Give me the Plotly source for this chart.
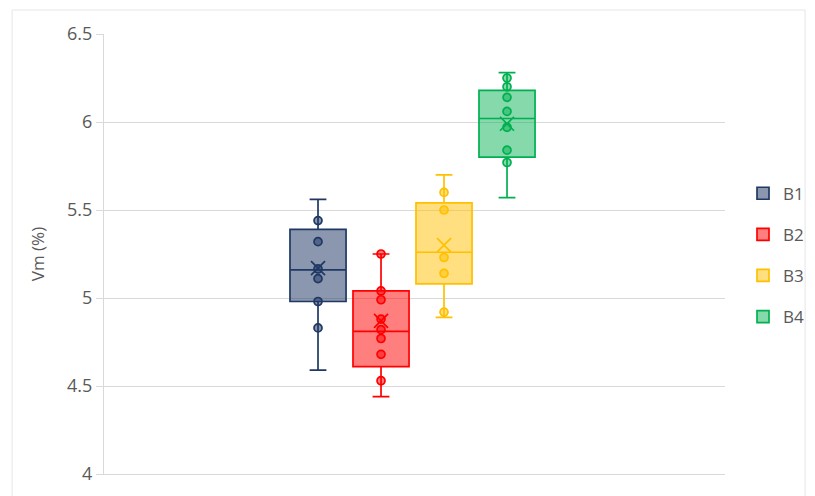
import plotly.graph_objects as go

# Box plot of Vm (%) for four batches
groups = ["B1", "B2", "B3", "B4"]

lower = [4.59, 4.44, 4.89, 5.57]
q1 = [4.98, 4.61, 5.08, 5.80]
median = [5.16, 4.81, 5.26, 6.02]
q3 = [5.39, 5.04, 5.54, 6.18]
upper = [5.56, 5.25, 5.70, 6.28]
mean = [5.17, 4.87, 5.30, 5.99]

b1_points = [5.44, 5.32, 5.165, 5.11, 4.98, 4.83]
b2_points = [5.25, 5.04, 4.99, 4.88, 4.82, 4.77, 4.68, 4.53]
b3_points = [5.60, 5.50, 5.23, 5.14, 4.92]
b4_points = [6.25, 6.20, 6.14, 6.06, 5.97, 5.84, 5.77]
points = [b1_points, b2_points, b3_points, b4_points]

line_colors = ["#203864", "#ff0000", "#ffc000", "#00b050"]
fill_colors = ["rgba(32,56,100,0.52)", "rgba(255,0,0,0.5)",
               "rgba(255,192,0,0.5)", "rgba(0,176,80,0.48)"]

y_ticks = [4, 4.5, 5, 5.5, 6, 6.5]
y_tick_text = ["4", "4.5", "5", "5.5", "6", "6.5"]

FONT = "Open Sans"
TEXT = "#595959"
GRID = "#d9d9d9"

fig = go.Figure()

for i, g in enumerate(groups):
    fig.add_trace(go.Box(
        name=g,
        x=[g],
        lowerfence=[lower[i]],
        q1=[q1[i]],
        median=[median[i]],
        q3=[q3[i]],
        upperfence=[upper[i]],
        width=0.89,
        whiskerwidth=0.3,
        line=dict(color=line_colors[i], width=1.7),
        fillcolor=fill_colors[i],
        boxpoints=False,
        legendgroup=g,
        hoverinfo="skip",
    ))

for i, g in enumerate(groups):
    # individual observations
    fig.add_trace(go.Scatter(
        x=[g] * len(points[i]),
        y=points[i],
        mode="markers",
        marker=dict(symbol="circle", size=8, color=fill_colors[i],
                    line=dict(color=line_colors[i], width=1.7)),
        showlegend=False,
        legendgroup=g,
        hoverinfo="y",
    ))
    # mean marker
    fig.add_trace(go.Scatter(
        x=[g],
        y=[mean[i]],
        mode="markers",
        marker=dict(symbol="x-thin", size=14,
                    line=dict(color=line_colors[i], width=1.7)),
        showlegend=False,
        legendgroup=g,
        hoverinfo="y",
    ))

fig.update_layout(
    width=815,
    height=496,
    margin=dict(l=104, r=90, t=34, b=22, autoexpand=False),
    paper_bgcolor="white",
    plot_bgcolor="white",
    font=dict(family=FONT, color=TEXT, size=17),
    showlegend=True,
    legend=dict(
        x=1.029, y=0.678, xanchor="left", yanchor="top",
        font=dict(family=FONT, size=17, color=TEXT),
        tracegroupgap=16,
        itemwidth=30,
        bgcolor="rgba(0,0,0,0)",
    ),
    xaxis=dict(
        type="category",
        range=[-3.397, 6.46],
        showticklabels=False,
        showgrid=False,
        zeroline=False,
        showline=True,
        linecolor=GRID,
        linewidth=1,
        fixedrange=True,
    ),
    yaxis=dict(
        range=[4, 6.5],
        tickvals=y_ticks,
        ticktext=y_tick_text,
        showgrid=True,
        gridcolor=GRID,
        gridwidth=1,
        zeroline=False,
        showline=True,
        linecolor=GRID,
        ticks="outside",
        ticklen=7,
        tickcolor=GRID,
        tickfont=dict(family=FONT, size=18, color=TEXT),
        title=dict(text="Vm (%)", font=dict(family=FONT, size=17, color=TEXT),
                   standoff=18),
    ),
    shapes=[dict(
        type="rect", xref="paper", yref="paper",
        x0=-0.148, x1=1.129, y0=-0.07, y1=1.0545,
        line=dict(color="#e6e6e6", width=1),
        fillcolor="rgba(0,0,0,0)",
        layer="below",
    )],
)

fig.write_html("out.html")
